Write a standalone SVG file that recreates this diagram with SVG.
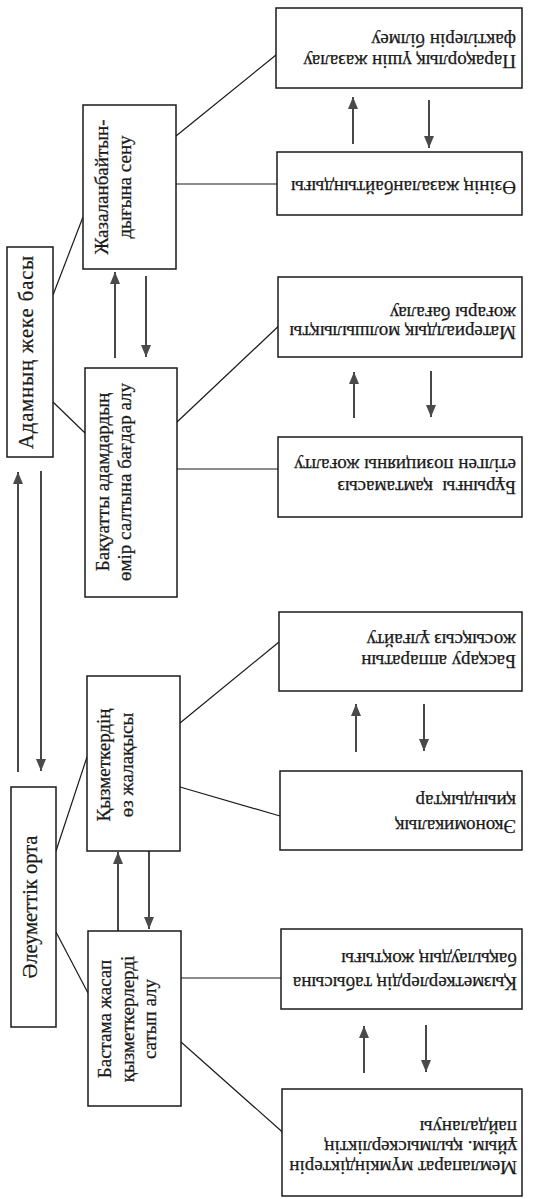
<svg xmlns="http://www.w3.org/2000/svg" width="544" height="1199" viewBox="0 0 544 1199">
<style>
.box{fill:#fff;stroke:#1a1a1a;stroke-width:1.5}
.t{font-family:"Liberation Serif","DejaVu Serif",serif;font-size:19px;fill:#1a1a1a;stroke:#1a1a1a;stroke-width:0.25}
.h{font-family:"Liberation Serif","DejaVu Serif",serif;font-size:20.5px;fill:#1a1a1a;stroke:#1a1a1a;stroke-width:0.25}
.c{stroke:#1a1a1a;stroke-width:1.2;fill:none}
.a{stroke:#1a1a1a;stroke-width:1.6;fill:none;marker-end:url(#ah)}
</style>
<defs>
<marker id="ah" markerUnits="userSpaceOnUse" markerWidth="12" markerHeight="14" viewBox="0 0 12 10" refX="12" refY="5" orient="auto">
<path d="M0,0 L12,5 L0,10 Z" fill="#4a4a4a"/>
</marker>
</defs>
<rect width="544" height="1199" fill="#fff"/>

<g id="connectors">
<line class="c" x1="176" y1="136" x2="276" y2="55"/>
<line class="c" x1="176" y1="184" x2="284" y2="184"/>
<line class="c" x1="53" y1="295" x2="83" y2="217"/>
<line class="c" x1="53" y1="402" x2="85" y2="433"/>
<line class="c" x1="177" y1="422" x2="284" y2="321"/>
<line class="c" x1="177" y1="469" x2="285" y2="469"/>
<line class="c" x1="56" y1="851" x2="87" y2="757"/>
<line class="c" x1="180" y1="723" x2="279" y2="642"/>
<line class="c" x1="180" y1="787" x2="280" y2="816"/>
<line class="c" x1="56" y1="932" x2="88" y2="993"/>
<line class="c" x1="181" y1="978" x2="288" y2="978"/>
<line class="c" x1="181" y1="1042" x2="288" y2="1137"/>
<line class="a" x1="18" y1="772" x2="18" y2="472"/>
<line class="a" x1="41" y1="471" x2="41" y2="771"/>
<line class="a" x1="115" y1="358" x2="115" y2="272"/>
<line class="a" x1="146" y1="276" x2="146" y2="357"/>
<line class="a" x1="118" y1="931" x2="118" y2="852"/>
<line class="a" x1="149" y1="851" x2="149" y2="929"/>
<line class="a" x1="353" y1="144" x2="353" y2="97"/>
<line class="a" x1="429" y1="100" x2="429" y2="148"/>
<line class="a" x1="354" y1="418" x2="354" y2="372"/>
<line class="a" x1="431" y1="371" x2="431" y2="417"/>
<line class="a" x1="356" y1="752" x2="356" y2="704"/>
<line class="a" x1="424" y1="704" x2="424" y2="751"/>
<line class="a" x1="364" y1="1073" x2="364" y2="1026"/>
<line class="a" x1="426" y1="1025" x2="426" y2="1072"/>
</g>

<g id="n-adam">
<rect class="box" x="7" y="247" width="46" height="210"/>
<text class="h" text-anchor="middle" letter-spacing="1" transform="translate(33,352) rotate(-90)">Адамның жеке басы</text>
</g>
<g id="n-aleumet">
<rect class="box" x="11" y="787" width="45" height="240"/>
<text class="h" text-anchor="middle" transform="translate(37,907) rotate(-90)">Әлеуметтік орта</text>
</g>
<g id="n-jazalanbaityn">
<rect class="box" x="83" y="105" width="93" height="164"/>
<text class="t" text-anchor="middle" transform="translate(108,187) rotate(-90)"><tspan x="0" y="0">Жазаланбайтын-</tspan><tspan x="0" y="23">дығына сену</tspan></text>
</g>
<g id="n-baquatty">
<rect class="box" x="85" y="368" width="92" height="229"/>
<text class="t" text-anchor="middle" transform="translate(109,482) rotate(-90)"><tspan x="0" y="0">Бақуатты адамдардың</tspan><tspan x="0" y="22">өмір салтына бағдар алу</tspan></text>
</g>
<g id="n-qyzmetkerdin">
<rect class="box" x="87" y="676" width="93" height="175"/>
<text class="t" text-anchor="middle" transform="translate(110,765) rotate(-90)"><tspan x="0" y="0">Қызметкердің</tspan><tspan x="0" y="23">өз жалақысы</tspan></text>
</g>
<g id="n-bastama">
<rect class="box" x="88" y="931" width="93" height="175"/>
<text class="t" text-anchor="middle" transform="translate(111,1019) rotate(-90)"><tspan x="0" y="0">Бастама жасап</tspan><tspan x="0" y="22.5">қызметкерлерді</tspan><tspan x="0" y="45">сатып алу</tspan></text>
</g>

<g id="n-parakorlyq">
<rect class="box" x="276" y="8" width="246" height="80"/>
<text class="t" transform="translate(516,55) rotate(180)"><tspan x="0" y="0">Парақорлық үшін жазалау</tspan><tspan x="0" y="21">фактілерін білмеу</tspan></text>
</g>
<g id="n-ozinin">
<rect class="box" x="277" y="152" width="245" height="63"/>
<text class="t" transform="translate(516,181) rotate(180)">Өзінің жазаланбайтындығы</text>
</g>
<g id="n-materialdyq">
<rect class="box" x="278" y="277" width="244" height="80"/>
<text class="t" transform="translate(516,326) rotate(180)"><tspan x="0" y="0">Материалдық молшылықты</tspan><tspan x="0" y="19">жоғары бағалау</tspan></text>
</g>
<g id="n-buryngy">
<rect class="box" x="278" y="437" width="244" height="80"/>
<text class="t" transform="translate(516,481) rotate(180)" xml:space="preserve"><tspan x="0" y="0">Бұрынғы  қамтамасыз</tspan><tspan x="0" y="22">етілген позицияны жоғалту</tspan></text>
</g>
<g id="n-basqaru">
<rect class="box" x="279" y="612" width="243" height="79"/>
<text class="t" transform="translate(516,655) rotate(180)"><tspan x="0" y="0">Басқару аппаратын</tspan><tspan x="0" y="21">жосықсыз ұлғайту</tspan></text>
</g>
<g id="n-ekonomikalyq">
<rect class="box" x="280" y="771" width="242" height="79"/>
<text class="t" transform="translate(516,820) rotate(180)"><tspan x="0" y="0">Экономикалық</tspan><tspan x="0" y="25">қиындықтар</tspan></text>
</g>
<g id="n-qyzmetkerlerdin">
<rect class="box" x="281" y="929" width="241" height="80"/>
<text class="t" transform="translate(517,977) rotate(180)"><tspan x="0" y="0">Қызметкерлердің табысына</tspan><tspan x="0" y="24">бақылаудың жоқтығы</tspan></text>
</g>
<g id="n-memlaparat">
<rect class="box" x="282" y="1089" width="240" height="107"/>
<text class="t" transform="translate(517,1161) rotate(180)"><tspan x="0" y="0">Мемлапарат мүмкіндіктерін</tspan><tspan x="0" y="20">ұйым. қылмыскерліктің</tspan><tspan x="0" y="40">пайдалануы</tspan></text>
</g>
</svg>
